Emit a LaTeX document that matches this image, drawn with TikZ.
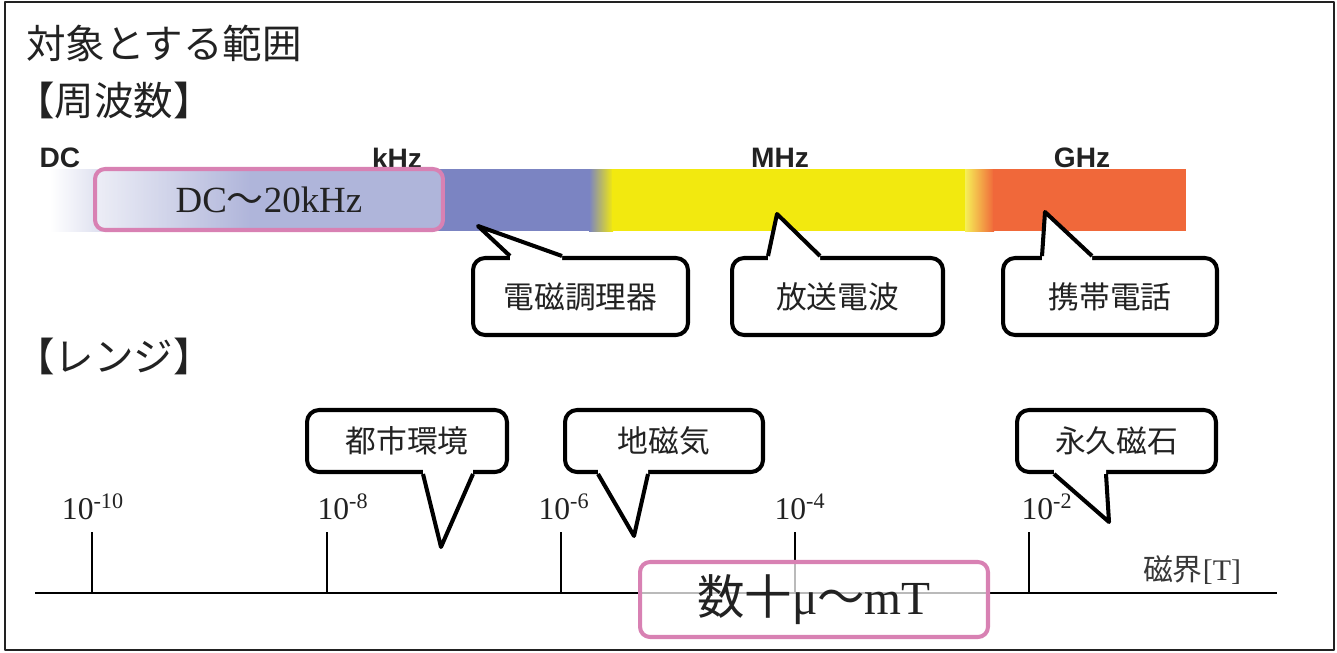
\documentclass[tikz,border=0pt]{standalone}
\usepackage{fontspec}
\setmainfont{Liberation Serif}
\newfontfamily\cjk{Noto Sans CJK JP}
\newfontfamily\hel{Liberation Sans}
\definecolor{barblue}{HTML}{7B84C2}
\definecolor{baryellow}{HTML}{F2E90F}
\definecolor{barorange}{HTML}{F0683A}
\definecolor{pinkline}{HTML}{D881B3}
\definecolor{textgray}{HTML}{222222}
\begin{document}
\begin{tikzpicture}[
 x=0.02cm, y=-0.02cm,
 line join=round,
 heading/.style={anchor=west,inner sep=0pt,text=textgray,font=\cjk\fontsize{22.5}{26}\selectfont},
 band/.style={inner sep=0pt,text=textgray,font=\hel\bfseries\fontsize{16}{18}\selectfont},
 callout/.style={draw=black,line width=2.3pt,rounded corners=0.24cm,fill=white,inner sep=0pt,text=textgray,font=\cjk\fontsize{17.5}{20}\selectfont},
 pointer/.style={draw=black,line width=2.3pt,fill=white},
 rangebox/.style={draw=pinkline,line width=2.3pt,rounded corners=0.2cm,inner sep=0pt},
 ticklabel/.style={inner sep=0pt,text=textgray,font=\fontsize{18}{20}\selectfont},
 axis/.style={draw=black,line width=1.3pt}
]
\useasboundingbox (0,0) rectangle (1337,652);
\draw[line width=1.4pt,draw=textgray] (5,2) rectangle (1334,650);

% headings
\node (title) [heading] at (26,43) {対象とする範囲};
\node (freq-head) [heading] at (15,100) {【周波数】};
\node (range-head) [heading] at (15,356) {【レンジ】};

% frequency band
\shade[left color=white,right color=barblue] (50,169) rectangle (251,231);
\fill[barblue] (250,169) rectangle (590,231);
\shade[left color=barblue,right color=baryellow] (589,169) rectangle (613,231);
\fill[baryellow] (612,169) rectangle (966,231);
\shade[left color=baryellow!70!white,right color=barorange] (965,169) rectangle (994,231);
\fill[barorange] (993,169) rectangle (1186,231);
\node (dc) [band] at (60,158) {DC};
\node (khz) [band] at (397,158) {kHz};
\node (mhz) [band] at (780,158) {MHz};
\node (ghz) [band] at (1082,158) {GHz};
\node (dc-box) [rangebox,fill=white,fill opacity=0.4,text opacity=1,minimum width=6.96cm,minimum height=1.22cm,
  font=\fontsize{21}{24}\selectfont,text=textgray] at (269,199.5) {DC{\cjk 〜}20kHz};

% frequency callouts
\node (cooker-box) [callout,minimum width=4.3cm,minimum height=1.54cm] at (580.5,296.5) {電磁調理器};
\node (radio-box) [callout,minimum width=4.22cm,minimum height=1.54cm] at (837.5,296.5) {放送電波};
\node (phone-box) [callout,minimum width=4.28cm,minimum height=1.54cm] at (1110,296.5) {携帯電話};
\coordinate (cooker-tip) at (478,226);
\coordinate (radio-tip) at (777,214);
\coordinate (phone-tip) at (1045,212);
\foreach \n/\a/\b in {cooker/-1.41cm/-0.37cm, radio/-1.39cm/-0.35cm, phone/-1.36cm/-0.36cm} {
  \fill[white] ([xshift=\a,yshift=-3pt]\n-box.north) -- ([xshift=\a]\n-box.north) -- (\n-tip)
    -- ([xshift=\b]\n-box.north) -- ([xshift=\b,yshift=-3pt]\n-box.north) -- cycle;
  \draw[pointer,fill=none] ([xshift=\a]\n-box.north) -- (\n-tip) -- ([xshift=\b]\n-box.north);
}

% field axis
\coordinate (axis-start) at (35,593);
\coordinate (axis-end) at (1277,593);
\draw[axis] (axis-start) -- (axis-end);
\foreach \x/\e/\lx [count=\i] in {92/-10/93, 327/-8/343, 561/-6/564, 795/-4/800, 1029/-2/1047} {
  \coordinate (tick\i) at (\x,593);
  \draw[axis] (tick\i) -- ++(0,-61);
  \node (label\i) [ticklabel] at (\lx,507) {10\textsuperscript{\e}};
}
\node (unit) [inner sep=0pt,text=textgray!90,font=\fontsize{17}{20}\selectfont] at (1192,570) {{\cjk 磁界}[T]};

% range callouts
\node (city-box) [callout,minimum width=4cm,minimum height=1.24cm] at (407,441) {都市環境};
\node (geo-box) [callout,minimum width=3.96cm,minimum height=1.24cm] at (664,441) {地磁気};
\node (magnet-box) [callout,minimum width=3.98cm,minimum height=1.24cm] at (1116.5,441) {永久磁石};
\coordinate (city-tip) at (441,547);
\coordinate (geo-tip) at (634,536);
\coordinate (magnet-tip) at (1109,522);
\foreach \n/\a/\b in {city/0.32cm/1.32cm, geo/-1.32cm/-0.32cm, magnet/-1.25cm/-0.21cm} {
  \fill[white] ([xshift=\a,yshift=3pt]\n-box.south) -- ([xshift=\a]\n-box.south) -- (\n-tip)
    -- ([xshift=\b]\n-box.south) -- ([xshift=\b,yshift=3pt]\n-box.south) -- cycle;
  \draw[pointer,fill=none] ([xshift=\a]\n-box.south) -- (\n-tip) -- ([xshift=\b]\n-box.south);
}

\node (range-box) [rangebox,fill=white,fill opacity=0.73,text opacity=1,minimum width=6.96cm,minimum height=1.5cm,
  font=\fontsize{27}{30}\selectfont,text=textgray] at (814,599.5) {{\cjk 数十}μ{\cjk 〜}mT};
\end{tikzpicture}
\end{document}
